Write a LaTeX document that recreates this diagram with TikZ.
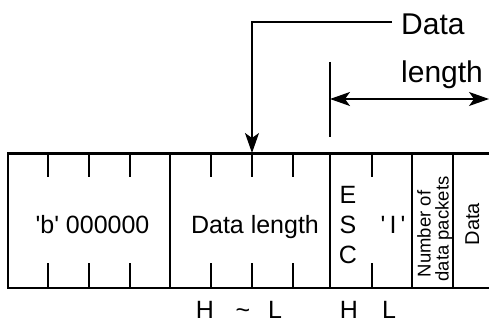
\documentclass[tikz,border=0pt]{standalone}
\usepackage{fontspec}
\setmainfont{Liberation Sans}[Ligatures=TeXOff]
\usetikzlibrary{arrows.meta}
\begin{document}
\begin{tikzpicture}[x=1pt,y=-1pt,
  thickline/.style={line width=2.2pt},
  thinline/.style={line width=1.2pt},
  head/.tip={Stealth[length=20pt,width=14pt,inset=5pt]},
  lbl/.style={inner sep=0pt,anchor=base,font=\fontsize{25}{30}\selectfont},
  toplbl/.style={inner sep=0pt,anchor=base west,font=\fontsize{30}{36}\selectfont},
  rotlbl/.style={inner sep=0pt,anchor=base,rotate=90,font=\fontsize{18.5}{18.5}\selectfont}]
\useasboundingbox (0,0) rectangle (489,323);
% frame
\draw[thickline] (489,153.5) -- (8,153.5) -- (8,288) -- (489,288);
% full dividers
\foreach \x in {170,330,412,453} \draw[thinline] (\x,153.5) -- (\x,288);
% ticks
\foreach \x in {48,89,130,211,252,293,372} {
  \draw[thinline] (\x,153.5) -- (\x,177);
  \draw[thinline] (\x,263) -- (\x,288);
}
% cell texts
\node[lbl] (b) at (92.5,233) {'b' 000000};
\node[lbl] (dl) at (255,233) {Data length};
\node[lbl] (e) at (348,203) {E};
\node[lbl] (s) at (348,233) {S};
\node[lbl] (c) at (348,263) {C};
\node[lbl] (i) at (393,233) {'\,I\,'};
\node[rotlbl] (nof) at (430.5,234) {Number of};
\node[rotlbl] (dp) at (448.5,229) {data packets};
\node[rotlbl,font=\fontsize{20}{20}\selectfont] (dat) at (479,224) {Data};
% bottom labels
\node[lbl] (h1) at (205,318) {H};
\node[lbl] (t1) at (243,318) {\char"7E};
\node[lbl] (l1) at (275,318) {L};
\node[lbl] (h2) at (349,318) {H};
\node[lbl] (l2) at (389,318) {L};
% top labels
\node[toplbl] (tdata) at (401,35) {Data};
\node[toplbl] (tlen) at (401,83) {length};
% arrows
\coordinate (a0) at (392,22);
\coordinate (a1) at (252,22);
\coordinate (a2) at (252,153);
\draw[thinline,-head] (a0) -- (a1) -- (a2);
\coordinate (v0) at (330,62);
\coordinate (v1) at (330,137);
\draw[thinline] (v0) -- (v1);
\coordinate (d0) at (330,99);
\coordinate (d1) at (489,99);
\draw[thinline,head-head] (d0) -- (d1);
\end{tikzpicture}
\end{document}
